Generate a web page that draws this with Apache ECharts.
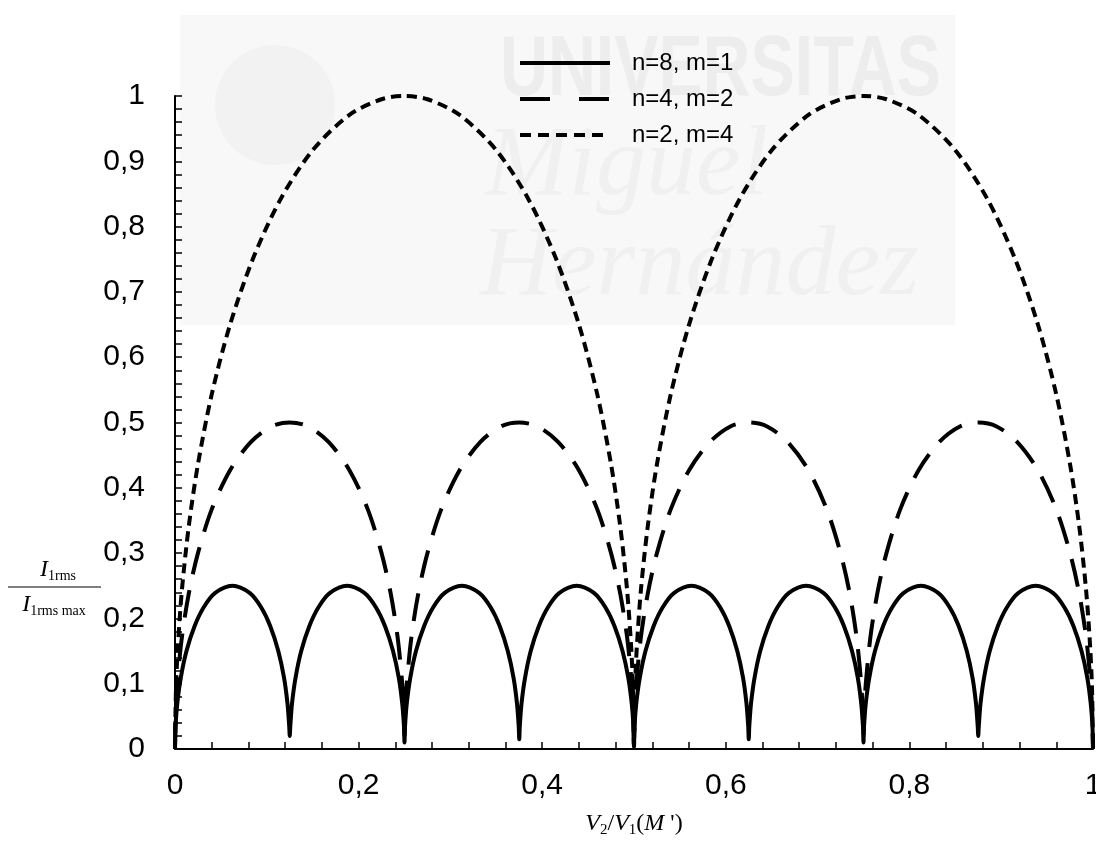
<!DOCTYPE html>
<html>
<head>
<meta charset="utf-8">
<script src="https://cdn.jsdelivr.net/npm/echarts@6/dist/echarts.min.js"></script>
<style>
html,body{margin:0;padding:0;background:#fff;overflow:hidden;width:1096px;height:841px;}
#chart{width:1096px;height:841px;display:block;}
</style>
</head>
<body>
<div id="chart"></div>
<script>
// ---- Data ----
const seriesNames = ['n=8, m=1', 'n=4, m=2', 'n=2, m=4'];
const xTickLabels = ['0', '0,2', '0,4', '0,6', '0,8', '1'];
const yTickLabels = ['0', '0,1', '0,2', '0,3', '0,4', '0,5', '0,6', '0,7', '0,8', '0,9', '1'];

// n=8, m=1 (solid)
const curveN8 = [
  [0,0],[0.0006,0.035],[0.0025,0.070],[0.0063,0.109],[0.0125,0.150],[0.0213,0.188],[0.0313,0.217],[0.0438,0.239],[0.0625,0.250],[0.0813,0.239],[0.0938,0.217],[0.1038,0.188],[0.1125,0.150],[0.1188,0.109],[0.1225,0.070],[0.1244,0.035],
  [0.125,0.020],[0.1256,0.035],[0.1275,0.070],[0.1313,0.109],[0.1375,0.150],[0.1463,0.188],[0.1563,0.217],[0.1688,0.239],[0.1875,0.250],[0.2063,0.239],[0.2188,0.217],[0.2288,0.188],[0.2375,0.150],[0.2438,0.109],[0.2475,0.070],[0.2494,0.035],
  [0.25,0.010],[0.2506,0.035],[0.2525,0.070],[0.2563,0.109],[0.2625,0.150],[0.2713,0.188],[0.2813,0.217],[0.2938,0.239],[0.3125,0.250],[0.3313,0.239],[0.3438,0.217],[0.3538,0.188],[0.3625,0.150],[0.3688,0.109],[0.3725,0.070],[0.3744,0.035],
  [0.375,0.015],[0.3756,0.035],[0.3775,0.070],[0.3813,0.109],[0.3875,0.150],[0.3963,0.188],[0.4063,0.217],[0.4188,0.239],[0.4375,0.250],[0.4563,0.239],[0.4688,0.217],[0.4788,0.188],[0.4875,0.150],[0.4938,0.109],[0.4975,0.070],[0.4994,0.035],
  [0.5,0.003],[0.5006,0.035],[0.5025,0.070],[0.5063,0.109],[0.5125,0.150],[0.5213,0.188],[0.5313,0.217],[0.5438,0.239],[0.5625,0.250],[0.5813,0.239],[0.5938,0.217],[0.6038,0.188],[0.6125,0.150],[0.6188,0.109],[0.6225,0.070],[0.6244,0.035],
  [0.625,0.015],[0.6256,0.035],[0.6275,0.070],[0.6313,0.109],[0.6375,0.150],[0.6463,0.188],[0.6563,0.217],[0.6688,0.239],[0.6875,0.250],[0.7063,0.239],[0.7188,0.217],[0.7288,0.188],[0.7375,0.150],[0.7438,0.109],[0.7475,0.070],[0.7494,0.035],
  [0.75,0.010],[0.7506,0.035],[0.7525,0.070],[0.7563,0.109],[0.7625,0.150],[0.7713,0.188],[0.7813,0.217],[0.7938,0.239],[0.8125,0.250],[0.8313,0.239],[0.8438,0.217],[0.8538,0.188],[0.8625,0.150],[0.8688,0.109],[0.8725,0.070],[0.8744,0.035],
  [0.875,0.020],[0.8756,0.035],[0.8775,0.070],[0.8813,0.109],[0.8875,0.150],[0.8963,0.188],[0.9063,0.217],[0.9188,0.239],[0.9375,0.250],[0.9563,0.239],[0.9688,0.217],[0.9788,0.188],[0.9875,0.150],[0.9938,0.109],[0.9975,0.070],[0.9994,0.035],
  [1,0]
];

// n=4, m=2 (long dashes)
const curveN4 = [
  [0,0],[0.0008,0.055],[0.0025,0.100],[0.0075,0.171],[0.015,0.238],[0.025,0.300],[0.04,0.367],[0.06,0.427],[0.0825,0.470],[0.105,0.494],[0.125,0.500],[0.145,0.494],[0.1675,0.470],[0.19,0.427],[0.21,0.367],[0.225,0.300],[0.235,0.238],[0.2425,0.171],[0.2475,0.100],[0.2492,0.055],
  [0.25,0.020],[0.2508,0.055],[0.2525,0.100],[0.2575,0.171],[0.265,0.238],[0.275,0.300],[0.29,0.367],[0.31,0.427],[0.3325,0.470],[0.355,0.494],[0.375,0.500],[0.395,0.494],[0.4175,0.470],[0.44,0.427],[0.46,0.367],[0.475,0.300],[0.485,0.238],[0.4925,0.171],[0.4975,0.100],[0.4992,0.055],
  [0.5,0.005],[0.5008,0.055],[0.5025,0.100],[0.5075,0.171],[0.515,0.238],[0.525,0.300],[0.54,0.367],[0.56,0.427],[0.5825,0.470],[0.605,0.494],[0.625,0.500],[0.645,0.494],[0.6675,0.470],[0.69,0.427],[0.71,0.367],[0.725,0.300],[0.735,0.238],[0.7425,0.171],[0.7475,0.100],[0.7492,0.055],
  [0.75,0.020],[0.7508,0.055],[0.7525,0.100],[0.7575,0.171],[0.765,0.238],[0.775,0.300],[0.79,0.367],[0.81,0.427],[0.8325,0.470],[0.855,0.494],[0.875,0.500],[0.895,0.494],[0.9175,0.470],[0.94,0.427],[0.96,0.367],[0.975,0.300],[0.985,0.238],[0.9925,0.171],[0.9975,0.100],[0.9992,0.055],
  [1,0]
];

// n=2, m=4 (short dashes)
const curveN2 = [
  [0,0],[0.001,0.089],[0.003,0.154],[0.0075,0.243],[0.015,0.341],[0.025,0.436],[0.04,0.543],[0.06,0.650],[0.085,0.751],[0.115,0.842],[0.15,0.917],[0.19,0.971],[0.225,0.995],[0.25,1.000],[0.275,0.995],[0.31,0.971],[0.35,0.917],[0.385,0.842],[0.415,0.751],[0.44,0.650],[0.46,0.543],[0.475,0.436],[0.485,0.341],[0.4925,0.243],[0.497,0.154],[0.499,0.089],
  [0.5,0.005],[0.501,0.089],[0.503,0.154],[0.5075,0.243],[0.515,0.341],[0.525,0.436],[0.54,0.543],[0.56,0.650],[0.585,0.751],[0.615,0.842],[0.65,0.917],[0.69,0.971],[0.725,0.995],[0.75,1.000],[0.775,0.995],[0.81,0.971],[0.85,0.917],[0.885,0.842],[0.915,0.751],[0.94,0.650],[0.96,0.543],[0.975,0.436],[0.985,0.341],[0.9925,0.243],[0.997,0.154],[0.999,0.089],
  [1,0]
];

// ---- Chart ----
const chart = echarts.init(document.getElementById('chart'), null, {renderer: 'canvas', width: 1096, height: 841});
const tickFont = {fontFamily: '"Liberation Sans", Arial, sans-serif', fontSize: 30, color: '#000'};
const serif = '"Liberation Serif", "Times New Roman", serif';
const hiddenSymbol = {color: 'rgba(0,0,0,0)', borderWidth: 0, opacity: 0};

const option = {
  backgroundColor: '#fff',
  animation: false,
  grid: {left: 175, right: 3, top: 96, bottom: 92, containLabel: false, outerBoundsMode: 'none'},
  legend: {
    left: 518, top: 51, orient: 'vertical', padding: 0,
    itemWidth: 90, itemHeight: 14, itemGap: 12,
    itemStyle: hiddenSymbol,
    textStyle: {fontFamily: '"Liberation Sans", Arial, sans-serif', fontSize: 24, color: '#000', lineHeight: 22, padding: [0, 0, 0, 17]},
    data: [
      {name: seriesNames[0], itemStyle: hiddenSymbol, lineStyle: {type: 'solid', width: 4, color: '#000'}},
      {name: seriesNames[1], itemStyle: hiddenSymbol, lineStyle: {type: [30, 29], width: 4, color: '#000'}},
      {name: seriesNames[2], itemStyle: hiddenSymbol, lineStyle: {type: [11, 7], width: 4, color: '#000'}}
    ]
  },
  xAxis: {
    type: 'value', min: 0, max: 1, interval: 0.2,
    axisLine: {show: true, onZero: false, lineStyle: {color: '#000', width: 2}},
    axisTick: {show: true, inside: true, length: 7, lineStyle: {color: '#000', width: 1.5}},
    minorTick: {show: true, splitNumber: 5, length: 7, lineStyle: {color: '#000', width: 1.5}},
    splitLine: {show: false},
    axisLabel: Object.assign({margin: 22, formatter: v => xTickLabels[Math.round(v * 5)]}, tickFont)
  },
  yAxis: {
    type: 'value', min: 0, max: 1, interval: 0.1,
    axisLine: {show: true, onZero: false, lineStyle: {color: '#000', width: 2}},
    axisTick: {show: true, inside: true, length: 7, lineStyle: {color: '#000', width: 1.5}},
    minorTick: {show: true, splitNumber: 5, length: 7, lineStyle: {color: '#000', width: 1.5}},
    splitLine: {show: false},
    axisLabel: Object.assign({margin: 30, formatter: v => yTickLabels[Math.round(v * 10)]}, tickFont)
  },
  graphic: [
    // faint watermark
    {type: 'rect', z: -10, silent: true, shape: {x: 180, y: 15, width: 775, height: 310}, style: {fill: '#f8f8f8'}},
    {type: 'circle', z: -9, silent: true, shape: {cx: 275, cy: 105, r: 60}, style: {fill: '#f2f2f2'}},
    {type: 'text', z: -8, silent: true, x: 500, y: 72, scaleX: 0.78,
      style: {text: 'UNIVERSITAS', font: 'bold 85px "Liberation Sans", Arial, sans-serif', fill: '#ededed', verticalAlign: 'middle', align: 'left'}},
    {type: 'text', z: -8, silent: true, x: 485, y: 168,
      style: {text: 'Miguel', font: 'italic 100px "Liberation Serif", serif', fill: '#f0f0f0', verticalAlign: 'middle', align: 'left'}},
    {type: 'text', z: -8, silent: true, x: 480, y: 268,
      style: {text: 'Hernández', font: 'italic 100px "Liberation Serif", serif', fill: '#f0f0f0', verticalAlign: 'middle', align: 'left'}},
    // y axis name (fraction)
    {type: 'text', x: 58, y: 570,
      style: {text: '{v|I}{s|1rms}', align: 'center', verticalAlign: 'middle',
        rich: {v: {fontFamily: serif, fontStyle: 'italic', fontSize: 24, lineHeight: 26, color: '#000'},
               s: {fontFamily: serif, fontSize: 14, lineHeight: 14, verticalAlign: 'bottom', color: '#000'}}}},
    {type: 'line', shape: {x1: 8, y1: 587, x2: 101, y2: 587}, style: {stroke: '#000', lineWidth: 1}},
    {type: 'text', x: 54, y: 605,
      style: {text: '{v|I}{s|1rms max}', align: 'center', verticalAlign: 'middle',
        rich: {v: {fontFamily: serif, fontStyle: 'italic', fontSize: 24, lineHeight: 26, color: '#000'},
               s: {fontFamily: serif, fontSize: 14, lineHeight: 14, verticalAlign: 'bottom', color: '#000'}}}},
    // x axis name
    {type: 'text', x: 634, y: 824,
      style: {text: '{v|V}{s|2}{n|/}{v|V}{s|1}{n|(}{v|M}{n| \')}', align: 'center', verticalAlign: 'middle',
        rich: {v: {fontFamily: serif, fontStyle: 'italic', fontSize: 24, lineHeight: 28, color: '#000'},
               n: {fontFamily: serif, fontSize: 24, lineHeight: 28, color: '#000'},
               s: {fontFamily: serif, fontSize: 15, lineHeight: 15, verticalAlign: 'bottom', color: '#000'}}}}
  ],
  series: [
    {name: seriesNames[0], type: 'line', data: curveN8, symbol: 'none', smooth: 0.3,
      lineStyle: {color: '#000', width: 4, type: 'solid'}, itemStyle: {color: '#000'}, z: 3},
    {name: seriesNames[1], type: 'line', data: curveN4, symbol: 'none', smooth: 0.3,
      lineStyle: {color: '#000', width: 4, type: [28, 16]}, itemStyle: {color: '#000'}, z: 3},
    {name: seriesNames[2], type: 'line', data: curveN2, symbol: 'none', smooth: 0.3,
      lineStyle: {color: '#000', width: 4, type: [10, 6]}, itemStyle: {color: '#000'}, z: 3}
  ]
};
chart.setOption(option);
</script>
</body>
</html>
